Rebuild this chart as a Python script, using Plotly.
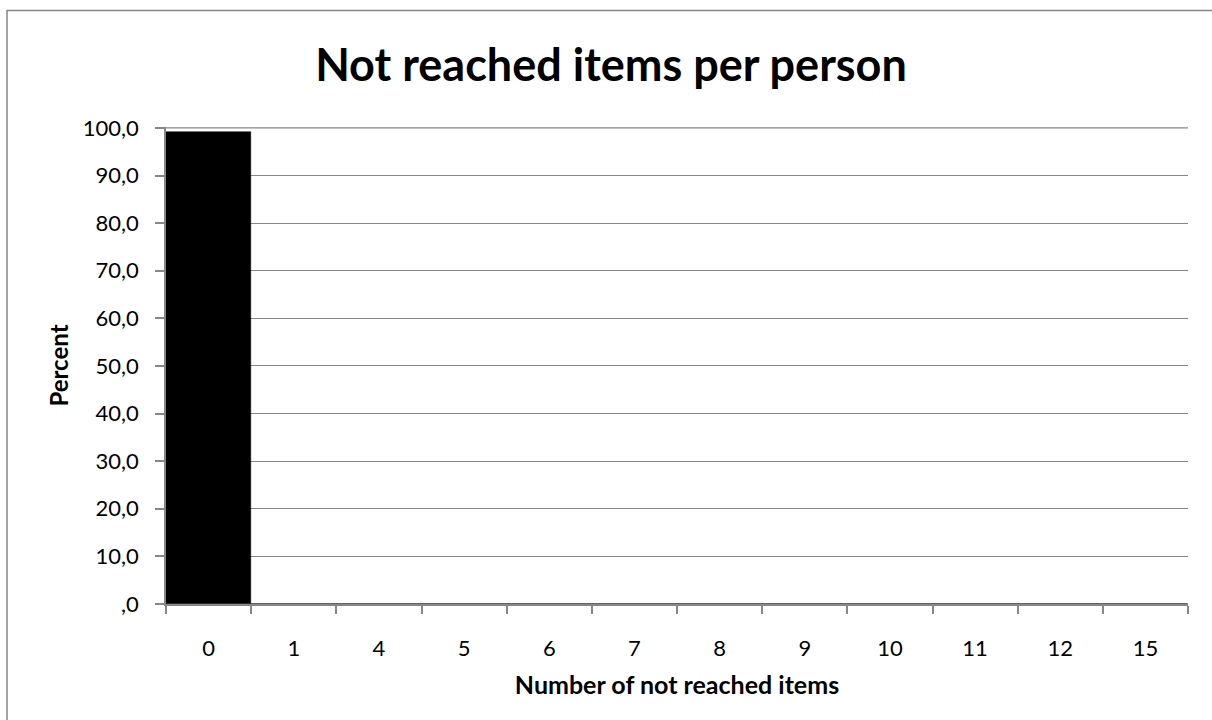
import plotly.graph_objects as go

categories = ["0", "1", "4", "5", "6", "7", "8", "9", "10", "11", "12", "15"]
percent = [99.2, 0.1, 0.1, 0.1, 0.1, 0.1, 0.1, 0.1, 0.1, 0.1, 0.1, 0.1]
y_tick_values = [0, 10, 20, 30, 40, 50, 60, 70, 80, 90, 100]
y_tick_labels = [",0", "10,0", "20,0", "30,0", "40,0", "50,0", "60,0", "70,0", "80,0", "90,0", "100,0"]

W, H = 1212, 720
L, R, T, B = 166, 1188, 127, 604
pw, ph = R - L, B - T

def px_x(p):
    return (p - L) / pw

def px_y(p):
    return (B - p) / ph

FONT = "Lato"
GRAY = "#878787"

fig = go.Figure(go.Bar(
    x=categories, y=percent,
    marker=dict(color="black", line=dict(color="black", width=0.5)),
))

fig.update_layout(
    width=W, height=H,
    margin=dict(l=L, r=W - R, t=T, b=H - B),
    paper_bgcolor="white", plot_bgcolor="white",
    bargap=0,
    showlegend=False,
    font=dict(family=FONT, color="black", size=22),
    title=dict(text="<b>Not reached items per person</b>", x=0.5 + 5 / W, xanchor="center",
               xref="container", y=1 - 65 / H, yanchor="middle",
               font=dict(family=FONT, size=45, color="black")),
    xaxis=dict(
        type="category", showgrid=False, showline=True, linecolor=GRAY, linewidth=1.5,
        ticks="outside", tickson="boundaries", ticklen=8, tickcolor=GRAY, tickwidth=1.5,
        tickfont=dict(size=22), ticklabelstandoff=24, fixedrange=True,
        title=dict(text="<b>Number of not reached items</b>", font=dict(size=25), standoff=16),
    ),
    yaxis=dict(
        range=[0, 100.2], tickvals=y_tick_values, ticktext=y_tick_labels,
        showgrid=True, gridcolor=GRAY, gridwidth=1.2,
        showline=True, linecolor=GRAY, linewidth=1.5,
        ticks="outside", ticklen=9, tickcolor=GRAY, tickwidth=1.5,
        tickfont=dict(size=22), ticklabelstandoff=12, zeroline=False,
        title=dict(text="<b>Percent</b>", font=dict(size=24), standoff=7),
    ),
    shapes=[
        dict(type="rect", xref="paper", yref="paper",
             x0=px_x(7), x1=px_x(1230), y0=px_y(740), y1=px_y(10.5),
             line=dict(color=GRAY, width=1.5), fillcolor="rgba(0,0,0,0)", layer="below"),
        dict(type="line", xref="paper", yref="y", x0=0, x1=1,
             y0=y_tick_values[-1], y1=y_tick_values[-1],
             line=dict(color=GRAY, width=1.2), layer="below"),
    ],
)

fig.write_html("out.html")
